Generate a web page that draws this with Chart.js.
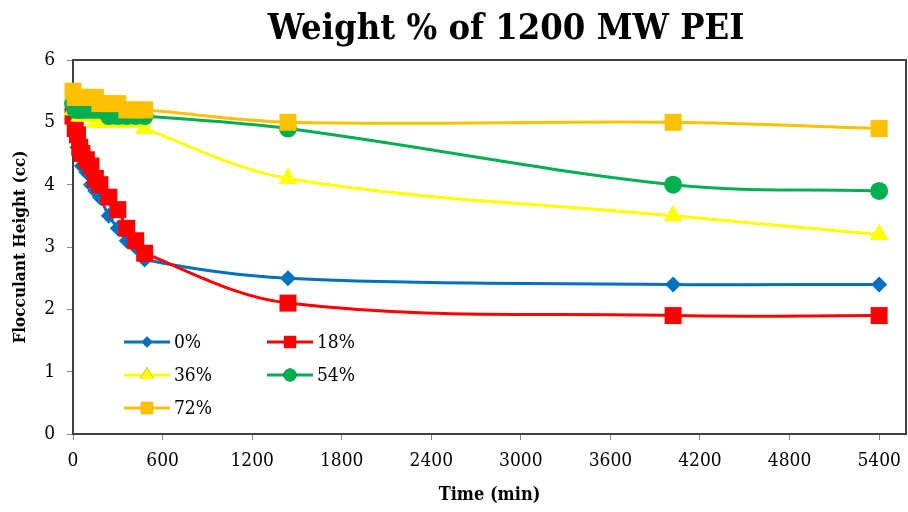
<!DOCTYPE html>
<html>
<head>
<meta charset="utf-8">
<script src="https://cdn.jsdelivr.net/npm/chart.js@4.4.1/dist/chart.umd.min.js"></script>
<style>
  html, body { margin: 0; padding: 0; background: #ffffff; }
  #wrap { position: relative; width: 908px; height: 512px; }
</style>
</head>
<body>
<div id="wrap"><canvas id="chart" width="908" height="512"></canvas></div>
<script>
// Sampling times (min) shared by every series
const times = [0, 15, 30, 45, 60, 90, 120, 150, 180, 240, 300, 360, 420, 480, 1440, 4020, 5400];

// Flocculant height (cc) for each weight % of 1200 MW PEI
const pct0  = [5.0, 4.8, 4.6, 4.5, 4.3, 4.2, 4.0, 3.9, 3.8, 3.5, 3.3, 3.1, 3.0, 2.8, 2.5, 2.4, 2.4];
const pct18 = [5.1, 4.9, 4.8, 4.6, 4.5, 4.4, 4.3, 4.1, 4.0, 3.8, 3.6, 3.3, 3.1, 2.9, 2.1, 1.9, 1.9];
const pct36 = [5.2, 5.2, 5.2, 5.1, 5.1, 5.1, 5.1, 5.0, 5.0, 5.0, 5.0, 5.0, 5.0, 4.9, 4.1, 3.5, 3.2];
const pct54 = [5.3, 5.2, 5.2, 5.2, 5.2, 5.2, 5.2, 5.2, 5.2, 5.1, 5.1, 5.1, 5.1, 5.1, 4.9, 4.0, 3.9];
const pct72 = [5.5, 5.4, 5.4, 5.4, 5.4, 5.4, 5.4, 5.4, 5.3, 5.3, 5.3, 5.2, 5.2, 5.2, 5.0, 5.0, 4.9];

const seriesLabels = ['0%', '18%', '36%', '54%', '72%'];
const xTickValues = [0, 600, 1200, 1800, 2400, 3000, 3600, 4200, 4800, 5400];
const yTickValues = [0, 1, 2, 3, 4, 5, 6];

const titleText = 'Weight % of 1200 MW PEI';
const xTitle = 'Time (min)';
const yTitle = 'Flocculant Height (cc)';

const FONT = "'DejaVu Serif Condensed', 'DejaVu Serif', 'Liberation Serif', serif";

function toPoints(values) {
  return times.map((t, i) => ({ x: t, y: values[i] }));
}

const styles = [
  { color: '#0070C0', pointStyle: 'rectRot',  radius: 8,  order: 4 },
  { color: '#FF0000', pointStyle: 'rect',     radius: 12, order: 3 },
  { color: '#FFFF00', pointStyle: 'triangle', radius: 11, order: 2 },
  { color: '#00B050', pointStyle: 'circle',   radius: 9,  order: 1 },
  { color: '#FFC000', pointStyle: 'rect',     radius: 12, order: 0 }
];

const seriesValues = [pct0, pct18, pct36, pct54, pct72];

const datasets = seriesValues.map((vals, i) => ({
  label: seriesLabels[i],
  data: toPoints(vals),
  borderColor: styles[i].color,
  backgroundColor: styles[i].color,
  pointBackgroundColor: styles[i].color,
  pointBorderColor: styles[i].color,
  pointBorderWidth: 0,
  pointStyle: styles[i].pointStyle,
  pointRadius: styles[i].radius,
  borderWidth: 3,
  tension: 0.35,
  clip: false,
  order: styles[i].order
}));

// Frame around the plot area (top and right edges)
const framePlugin = {
  id: 'frame',
  afterDraw(chart) {
    const { ctx, chartArea: a } = chart;
    ctx.save();
    ctx.strokeStyle = '#404040';
    ctx.lineWidth = 2;
    ctx.beginPath();
    ctx.moveTo(a.left, a.top);
    ctx.lineTo(a.right, a.top);
    ctx.lineTo(a.right, a.bottom);
    ctx.stroke();
    ctx.restore();
  }
};

// Chart heading, centred over the plot
const headingPlugin = {
  id: 'heading',
  afterDraw(chart) {
    const ctx = chart.ctx;
    ctx.save();
    ctx.fillStyle = '#000000';
    ctx.font = "bold 36px " + FONT;
    ctx.textAlign = 'center';
    ctx.textBaseline = 'alphabetic';
    ctx.fillText(titleText, 506, 39);
    ctx.restore();
  }
};

// Two-column legend inside the lower-left of the plot
const legendPlugin = {
  id: 'insetLegend',
  afterDatasetsDraw(chart) {
    const ctx = chart.ctx;
    const cols = [124, 267];
    const rows = [342, 375, 408];
    ctx.save();
    chart.data.datasets.forEach((ds, i) => {
      const x = cols[i % 2];
      const y = rows[Math.floor(i / 2)];
      ctx.strokeStyle = ds.borderColor;
      ctx.lineWidth = 3;
      ctx.beginPath();
      ctx.moveTo(x, y);
      ctx.lineTo(x + 46, y);
      ctx.stroke();
      Chart.helpers.drawPoint(ctx, {
        pointStyle: ds.pointStyle,
        radius: ds.pointRadius * 0.72,
        rotation: 0,
        borderWidth: 0
      }, x + 23, y);
      ctx.fillStyle = ds.backgroundColor;
      ctx.fill();
      ctx.fillStyle = '#000000';
      ctx.font = "19px " + FONT;
      ctx.textAlign = 'left';
      ctx.textBaseline = 'middle';
      ctx.fillText(ds.label, x + 50, y + 1);
    });
    ctx.restore();
  }
};

new Chart(document.getElementById('chart'), {
  type: 'line',
  data: { datasets },
  plugins: [framePlugin, headingPlugin, legendPlugin],
  options: {
    responsive: false,
    animation: false,
    layout: { autoPadding: false, padding: { top: 60, right: 2, left: 0, bottom: 0 } },
    plugins: {
      legend: { display: false },
      title: { display: false },
      tooltip: { enabled: false }
    },
    scales: {
      x: {
        type: 'linear',
        min: 0,
        max: 5580,
        afterBuildTicks(scale) { scale.ticks = xTickValues.map(v => ({ value: v })); },
        afterFit(scale) {
          scale.height = 78;
          scale.paddingLeft = 0;
          scale.paddingRight = 0;
        },
        ticks: {
          color: '#000000',
          font: { family: FONT, size: 19 },
          padding: 10,
          maxRotation: 0,
          autoSkip: false,
          callback: v => String(v)
        },
        grid: { display: true, drawOnChartArea: false, drawTicks: true, tickLength: 6, color: '#868686' },
        border: { display: true, color: '#404040', width: 2 },
        title: {
          display: true,
          text: xTitle,
          color: '#000000',
          font: { family: FONT, size: 18, weight: 'bold' },
          padding: { top: 0, bottom: 6 }
        }
      },
      y: {
        type: 'linear',
        min: 0,
        max: 6,
        afterBuildTicks(scale) { scale.ticks = yTickValues.map(v => ({ value: v })); },
        afterFit(scale) { scale.width = 73; },
        ticks: {
          color: '#000000',
          font: { family: FONT, size: 19 },
          padding: 12,
          callback: v => String(v)
        },
        grid: { display: true, drawOnChartArea: false, drawTicks: true, tickLength: 6, color: '#868686' },
        border: { display: true, color: '#404040', width: 2 },
        title: {
          display: true,
          text: yTitle,
          color: '#000000',
          font: { family: FONT, size: 17, weight: 'bold' },
          padding: { top: 10, bottom: 0 }
        }
      }
    }
  }
});
</script>
</body>
</html>
